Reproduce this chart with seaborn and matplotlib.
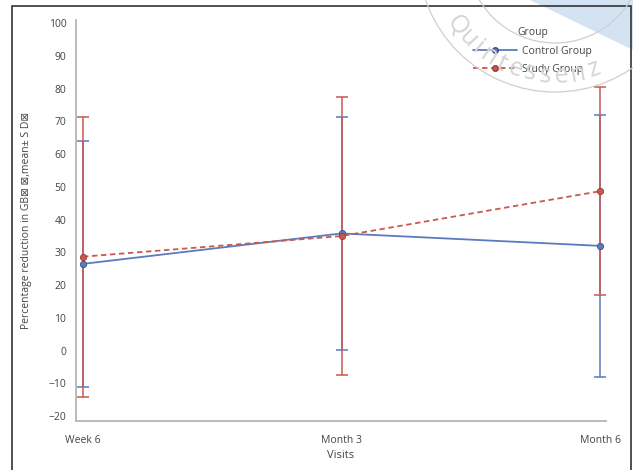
import numpy as np
import pandas as pd
import seaborn as sns
import matplotlib.pyplot as plt
from matplotlib.lines import Line2D
from matplotlib.patches import Rectangle, Circle, Polygon
from matplotlib.transforms import IdentityTransform

# values
visits = ["Week 6", "Month 3", "Month 6"]
control_mean = [26.5, 35.8, 32.0]
control_sd = [37.5, 35.7, 40.0]
study_mean = [28.7, 35.0, 48.7]
study_sd = [42.8, 42.5, 31.8]
y_ticks = [-20, -10, 0, 10, 20, 30, 40, 50, 60, 70, 80, 90, 100]

blue = "#5a7bbd"
red = "#c9584f"
txt = "#444444"

df = pd.DataFrame({
    "Visit": visits * 2,
    "Mean": control_mean + study_mean,
    "Group": ["Control Group"] * 3 + ["Study Group"] * 3,
})

sns.set_style("white")
plt.rcParams["font.family"] = ["Open Sans", "DejaVu Sans"]

W, H = 633, 470
fig = plt.figure(figsize=(W / 100, H / 100), dpi=100)
ax = fig.add_axes([76 / W, 1 - 421 / H, (606 - 76) / W, (421 - 20) / H])
ax.set_facecolor("none")

x = np.arange(len(visits))
ax.errorbar(x, control_mean, yerr=control_sd, fmt="none", ecolor=blue,
            elinewidth=1.1, capsize=4.5, capthick=1.1, zorder=2)
ax.errorbar(x, study_mean, yerr=study_sd, fmt="none", ecolor=red,
            elinewidth=1.1, capsize=4.5, capthick=1.1, zorder=3)

n_before = len(ax.lines)
sns.lineplot(data=df, x="Visit", y="Mean", hue="Group", style="Group",
             palette={"Control Group": blue, "Study Group": red},
             dashes={"Control Group": "", "Study Group": (3, 2)},
             markers={"Control Group": "o", "Study Group": "o"},
             markersize=4.5, markeredgewidth=0.6, linewidth=1.3,
             legend=False, ax=ax, zorder=4)
for ln in ax.lines[n_before:]:
    ln.set_markeredgecolor("#3b4f85" if ln.get_color() == blue else "#9a3a33")

ax.set_xlim(-0.027, 2.023)
ax.set_ylim(-21.5, 101)
ax.set_yticks(y_ticks)
ax.set_xticks(x)
ax.set_xticklabels(visits)
ax.tick_params(axis="both", which="major", direction="out", length=4, width=0.8,
               color="#999999", labelsize=7.5, labelcolor=txt, pad=3)
ax.tick_params(axis="x", pad=6)
sns.despine(ax=ax)
for s in ["left", "bottom"]:
    ax.spines[s].set_color("#b5b5b5")
    ax.spines[s].set_linewidth(1.3)

ax.set_xlabel("Visits", fontsize=8, color=txt, labelpad=3)
ax.set_ylabel("Percentage reduction in GB\u22a0 \u22a0,mean\u00b1 S D\u22a0",
              fontsize=7.5, color=txt, labelpad=12)

handles = [
    Line2D([], [], color=blue, lw=1.3, marker="o", markersize=4, markeredgecolor="#3b4f85"),
    Line2D([], [], color=red, lw=1.3, ls=(0, (3, 2)), marker="o", markersize=4, markeredgecolor="#9a3a33"),
]
leg = fig.legend(handles, ["Control Group", "Study Group"], title="Group",
                 loc="upper left", bbox_to_anchor=(466 / W, 1 - 20 / H),
                 frameon=False, fontsize=7.5, title_fontsize=7.5,
                 handlelength=4.2, handletextpad=0.5, labelspacing=0.7,
                 borderpad=0.2)
for t in leg.get_texts():
    t.set_color(txt)
leg.get_title().set_color(txt)

# outer frame of the figure
fig.patches.append(Rectangle((12 / W, -0.05), (631 - 12) / W, 1.05 - 6 / H,
                             transform=fig.transFigure, fill=False,
                             edgecolor="#333333", lw=1.2))

# faint stamp in the top right corner
fig.patches.append(Polygon([(530 / W, 1), (1, 1), (1, 1 - 50 / H)], closed=True,
                           transform=fig.transFigure, facecolor="#d4e3f1",
                           edgecolor="none", zorder=0.5))
cx, cy = 555, H + 45
for r in [137, 88]:
    fig.patches.append(Circle((cx, cy), r, transform=IdentityTransform(),
                              fill=False, edgecolor="#cfcfcf", lw=0.9, zorder=6))
word = "Quintessenz"
angles = [-144, -136, -130, -123, -116, -109, -102, -94.5, -87, -79, -71]
for ch, ang in zip(word, angles):
    a = np.deg2rad(ang)
    px = cx + 121 * np.cos(a)
    py = cy + 121 * np.sin(a)
    fig.text(px / W, py / H, ch, fontsize=18, color="#d4d4d4",
             rotation=ang + 90, ha="center", va="center", zorder=6)

fig.savefig("out.png", dpi=100)
